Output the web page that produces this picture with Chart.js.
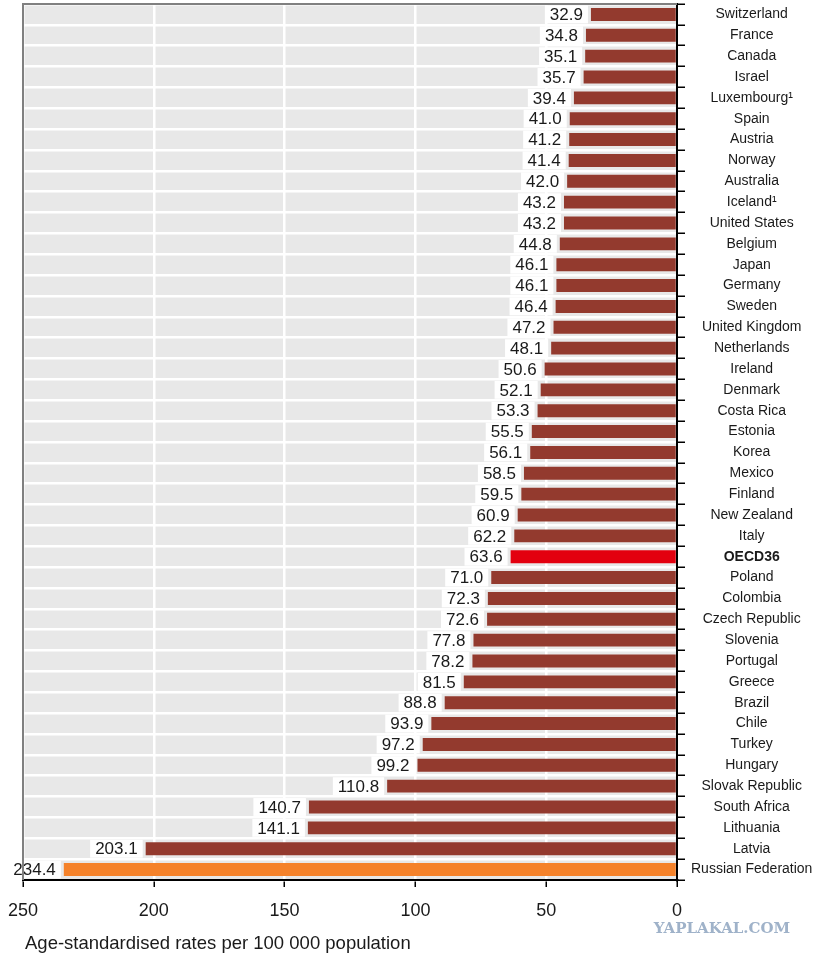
<!DOCTYPE html>
<html>
<head>
<meta charset="utf-8">
<script src="https://cdn.jsdelivr.net/npm/chart.js@4.4.1/dist/chart.umd.min.js"></script>
<style>
  html, body { margin: 0; padding: 0; background: #fff; }
  #wrap { position: relative; width: 816px; height: 960px; }
</style>
</head>
<body>
<div id="wrap"><canvas id="rateChart"></canvas></div>
<script>
// Chart data
const countries = [
  'Switzerland', 'France', 'Canada', 'Israel', 'Luxembourg¹', 'Spain', 'Austria',
  'Norway', 'Australia', 'Iceland¹', 'United States', 'Belgium', 'Japan', 'Germany',
  'Sweden', 'United Kingdom', 'Netherlands', 'Ireland', 'Denmark', 'Costa Rica',
  'Estonia', 'Korea', 'Mexico', 'Finland', 'New Zealand', 'Italy', 'OECD36',
  'Poland', 'Colombia', 'Czech Republic', 'Slovenia', 'Portugal', 'Greece', 'Brazil',
  'Chile', 'Turkey', 'Hungary', 'Slovak Republic', 'South Africa', 'Lithuania',
  'Latvia', 'Russian Federation'
];
const rates = [
  32.9, 34.8, 35.1, 35.7, 39.4, 41.0, 41.2,
  41.4, 42.0, 43.2, 43.2, 44.8, 46.1, 46.1,
  46.4, 47.2, 48.1, 50.6, 52.1, 53.3,
  55.5, 56.1, 58.5, 59.5, 60.9, 62.2, 63.6,
  71.0, 72.3, 72.6, 77.8, 78.2, 81.5, 88.8,
  93.9, 97.2, 99.2, 110.8, 140.7, 141.1,
  203.1, 234.4
];
const xTicks = [0, 50, 100, 150, 200, 250];
const axisTitle = 'Age-standardised rates per 100 000 population';

const highlight = { 'OECD36': '#e3000f', 'Russian Federation': '#f5822a' };
const barColors = countries.map(c => highlight[c] || '#933a2e');

// Grey plot background, frame and bottom texts
const plotBackground = {
  id: 'plotBackground',
  beforeDraw(chart) {
    const { ctx, chartArea: a } = chart;
    ctx.save();
    ctx.fillStyle = '#e8e8e8';
    ctx.fillRect(a.left, a.top, a.right - a.left, a.bottom - a.top);
    ctx.restore();
  },
  afterDraw(chart) {
    const { ctx, chartArea: a } = chart;
    ctx.save();
    ctx.strokeStyle = '#808080';
    ctx.lineWidth = 2;
    ctx.beginPath();
    ctx.moveTo(a.left, a.bottom);
    ctx.lineTo(a.left, a.top);
    ctx.lineTo(a.right, a.top);
    ctx.stroke();

    ctx.fillStyle = '#1a1a1a';
    ctx.font = '18.5px "Liberation Sans", Arial, sans-serif';
    ctx.textAlign = 'left';
    ctx.textBaseline = 'middle';
    ctx.fillText(axisTitle, a.left + 2, 944);

    ctx.fillStyle = '#9fb2c9';
    ctx.font = 'bold 15px "DejaVu Serif", serif';
    ctx.textAlign = 'center';
    ctx.fillText('YAPLAKAL.COM', 722, 929);
    ctx.restore();
  }
};

// Value labels with white boxes
const valueLabels = {
  id: 'valueLabels',
  afterDatasetsDraw(chart) {
    const { ctx } = chart;
    const meta = chart.getDatasetMeta(0);
    const yScale = chart.scales.y;
    const rowH = (yScale.bottom - yScale.top) / countries.length;
    ctx.save();
    ctx.font = '17px "Liberation Sans", Arial, sans-serif';
    ctx.textBaseline = 'middle';
    ctx.textAlign = 'right';
    meta.data.forEach((bar, i) => {
      const text = rates[i].toFixed(1);
      const w = ctx.measureText(text).width;
      const right = bar.x - 8;
      ctx.fillStyle = '#ffffff';
      ctx.fillRect(right - w - 5, bar.y - rowH / 2 + 1.5, w + 10, rowH - 3);
      ctx.fillStyle = '#1a1a1a';
      ctx.fillText(text, right, bar.y + 1);
    });
    ctx.restore();
  }
};

new Chart(document.getElementById('rateChart'), {
  type: 'bar',
  data: {
    labels: countries,
    datasets: [{
      data: rates,
      backgroundColor: barColors,
      borderWidth: 0,
      barPercentage: 0.62,
      categoryPercentage: 1
    }]
  },
  options: {
    indexAxis: 'y',
    responsive: true,
    maintainAspectRatio: false,
    animation: false,
    layout: { padding: { left: 23, top: 4, right: 0, bottom: 0 } },
    plugins: {
      legend: { display: false },
      tooltip: { enabled: false }
    },
    scales: {
      x: {
        position: 'bottom',
        reverse: true,
        min: 0,
        max: 250,
        afterBuildTicks(scale) {
          scale.ticks = xTicks.map(v => ({ value: v }));
        },
        afterFit(scale) { scale.height = 80; },
        grid: {
          color: '#ffffff',
          lineWidth: 2.5,
          tickColor: '#000000',
          tickLength: 7,
          tickWidth: 1.5
        },
        border: { color: '#000000', width: 2 },
        ticks: {
          color: '#1a1a1a',
          padding: 13,
          font: { family: '"Liberation Sans", Arial, sans-serif', size: 18 }
        }
      },
      y: {
        position: 'right',
        afterFit(scale) {
          scale.width = 139;
          scale.paddingTop = 0;
          scale.paddingBottom = 0;
        },
        grid: {
          offset: true,
          color: '#ffffff',
          lineWidth: 2.5,
          tickColor: '#000000',
          tickLength: 8,
          tickWidth: 1.5
        },
        border: { color: '#000000', width: 2 },
        ticks: {
          autoSkip: false,
          crossAlign: 'center',
          padding: 6,
          color: '#1a1a1a',
          font: ctx => ({
            family: '"Liberation Sans", Arial, sans-serif',
            size: 14,
            weight: countries[ctx.index] === 'OECD36' ? 'bold' : 'normal'
          })
        }
      }
    }
  },
  plugins: [plotBackground, valueLabels]
});
</script>
</body>
</html>
